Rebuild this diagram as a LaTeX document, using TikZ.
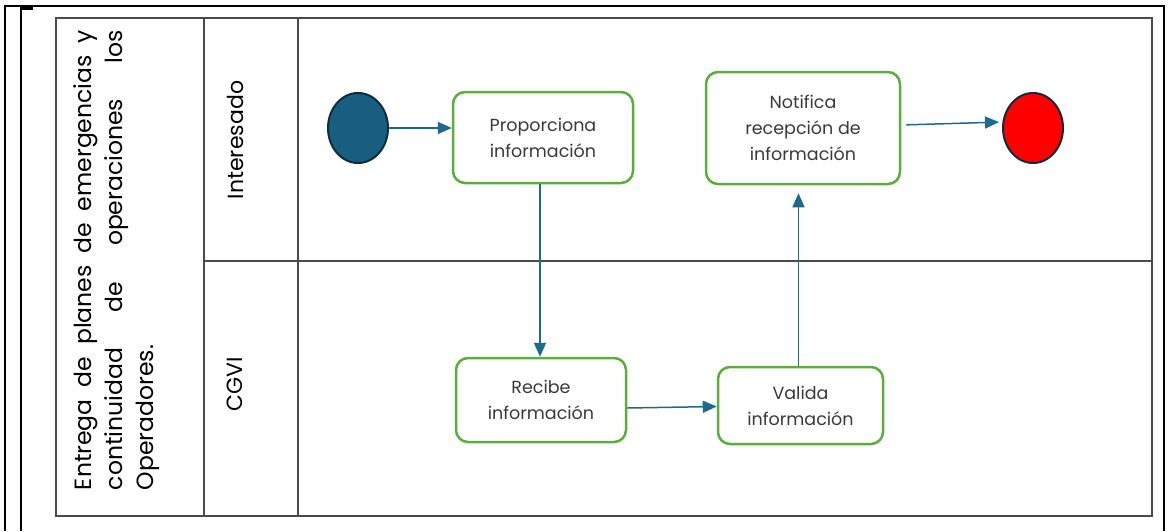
\documentclass[tikz,border=0pt]{standalone}
\usepackage{fontspec}
\setmainfont{Poppins}
\usetikzlibrary{shapes.geometric,arrows.meta}
\definecolor{boxgreen}{HTML}{5BAE3C}
\definecolor{flowblue}{HTML}{1D6A8E}
\definecolor{startblue}{HTML}{175E80}
\definecolor{edgedark}{HTML}{102C3C}
\definecolor{txtgray}{HTML}{3A3A3A}
\definecolor{laneline}{HTML}{4A4A4A}
\tikzset{
  task/.style={draw=boxgreen, line width=2.5pt, rounded corners=12pt, fill=white,
    text=txtgray, align=center, font=\fontsize{17.5}{26}\selectfont, inner sep=0pt},
  event/.style={ellipse, draw=edgedark, line width=2pt, minimum width=60pt, minimum height=70pt, inner sep=0pt},
  flow/.style={draw=flowblue, line width=1.5pt, -{Triangle[length=14pt,width=12pt]}},
  lane/.style={draw=laneline, line width=1.5pt},
  frame/.style={draw=black, line width=2pt},
  lanelabel/.style={rotate=90, font=\fontsize{22}{26}\selectfont, text=black}
}
\begin{document}
\begin{tikzpicture}[x=1pt,y=-1pt]
\useasboundingbox (0,0) rectangle (1169,531);
% outer frame
\draw[frame] (4.5,531) -- (4.5,6) -- (1164,6) -- (1164,531);
\draw[frame] (20.5,531) -- (20.5,8);
\draw[black, line width=2.5pt] (20,8.5) -- (33,8.5);
% pool table
\draw[lane] (56,18) rectangle (1152,516);
\draw[lane] (204,18) -- (204,516);
\draw[lane] (298,18) -- (298,516);
\draw[lane] (204,261) -- (1152,261);
% pool label
\node[rotate=90, align=left, font=\fontsize{23.5}{31}\selectfont, inner sep=0pt] (pool) at (117,260)
  {\makebox[460pt][s]{Entrega de planes de emergencias y}\\
   \makebox[460pt][s]{continuidad de operaciones los}\\
   \makebox[460pt][l]{Operadores.}};
\node[lanelabel] (l1) at (235,140) {Interesado};
\node[lanelabel] (l2) at (235,384) {CGVI};
% events
\node[event, fill=startblue] (start) at (358,128) {};
\node[event, fill=red] (stop) at (1033,128) {};
% tasks
\node[task, minimum width=180pt, minimum height=91pt] (prop) at (543,137.5) {Proporciona\\información};
\node[task, minimum width=170pt, minimum height=84pt] (recibe) at (541,400) {Recibe\\información};
\node[task, minimum width=165pt, minimum height=77pt] (valida) at (800.5,405.5) {Valida\\información};
\node[task, minimum width=194pt, minimum height=112pt] (notif) at (803,128) {Notifica\\recepción de\\información};
% flows
\draw[flow] (start.east) -- (prop.west |- start.east);
\draw[flow] ([xshift=-3pt]prop.south) -- ([xshift=-3pt]prop.south |- recibe.north);
\draw[flow] ([yshift=-8pt]recibe.east) -- ([yshift=-1pt]valida.west);
\draw[flow, shorten >=8pt] ([xshift=-2pt]valida.north) -- ([xshift=-2pt]valida.north |- notif.south);
\draw[flow, shorten <=5pt, shorten >=3pt] ([yshift=3pt]notif.east) -- ([yshift=6pt]stop.west);
\end{tikzpicture}
\end{document}
